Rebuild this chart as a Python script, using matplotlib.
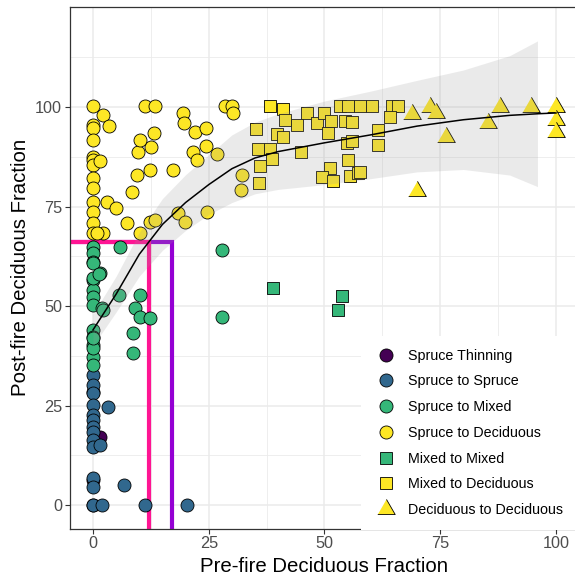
import matplotlib
matplotlib.use("Agg")
import matplotlib.pyplot as plt
from matplotlib.lines import Line2D
import numpy as np

plt.rcParams['font.family'] = ['Liberation Sans', 'DejaVu Sans']

# ---- data ----
spruce_thin_x = [0, 1.5, 0, 0]
spruce_thin_y = [28.5, 17.2, 6.3, 0]

spruce_spruce_x = [0, 0, 0, 0, 0, 0, 0, 0, 0, 0, 0, 0, 0, 1.9, 11.2, 20.2, 6.6, 3.3, 1.5]
spruce_spruce_y = [32.7, 30.2, 28.1, 25.1, 22.6, 21.4, 19.7, 18.4, 16.3, 14.6, 6.7, 4.6, 0,
                   0, 0, 0, 5.0, 24.7, 15.1]

spruce_mixed_x = [0, 0, 0, 1.5, 0, 0, 0, 0, 1.9, 2.2, 0, 0, 0, 5.8, 5.7, 10.2, 9.1, 10.2,
                  12.3, 8.7, 0, 0, 0, 0, 1.4, 8.7, 27.8, 27.8, 0, 0]
spruce_mixed_y = [64.9, 63.2, 61.1, 58.2, 56.5, 54.0, 52.3, 50.3, 49.4, 49.0, 44.0, 42.3, 40.2,
                  64.9, 52.8, 52.8, 49.4, 47.3, 46.9, 43.1, 60.7, 57.0, 37.3, 35.2, 58.0, 38.3,
                  64.1, 47.2, 39.4, 41.9]

spruce_decid_x = [0, 0, 0, 0, 0, 0, 0, 0, 0, 0, 0, 0, 0,
                  2.2, 3.5, 1.5, 3.0, 5.0, 2.2, 7.3, 8.4, 9.4, 12.3, 17.2, 9.8, 12.5, 10.2,
                  13.2, 11.2, 13.4, 19.5, 19.7, 22.0, 12.3, 13.4, 10.2, 18.4, 19.9, 21.7,
                  22.4, 24.4, 28.5, 30.0, 30.2, 24.4, 26.8, 32.1, 32.0, 24.6, 0.8]
spruce_decid_y = [100.3, 95.5, 94.6, 91.7, 87.5, 86.7, 85.4, 82.1, 79.6, 76.2, 73.7, 70.8, 68.3,
                  98.0, 95.2, 86.5, 76.2, 74.5, 68.3, 70.8, 78.7, 82.9, 84.2, 84.2, 88.8, 90.0,
                  91.7, 93.4, 100.3, 100.3, 98.4, 95.9, 93.8, 71.2, 71.6, 68.3, 73.3, 71.2,
                  88.8, 86.7, 94.6, 100.3, 100.3, 98.6, 90.2, 88.3, 82.9, 79.1, 73.7, 68.3]

mixed_mixed_x = [38.9, 53.7, 53.0]
mixed_mixed_y = [54.4, 52.6, 49.0]

mixed_decid_x = [38.2, 41.1, 41.5, 46.2, 44.0, 48.3, 49.9, 51.3, 53.3, 55.1, 57.7, 60.2, 54.4,
                 55.9, 50.8, 35.2, 39.8, 41.1, 35.7, 38.2, 38.6, 36.1, 35.9, 44.9, 54.8, 55.9,
                 55.1, 51.2, 49.4, 51.9, 55.5, 57.3, 61.6, 61.6, 64.5, 65.9, 64.1, 57.7]
mixed_decid_y = [100.3, 99.4, 96.7, 98.4, 95.5, 95.9, 98.4, 96.6, 100.3, 100.3, 100.3, 100.3,
                 96.6, 96.3, 93.5, 94.4, 93.2, 92.4, 89.4, 89.4, 86.9, 85.2, 80.8, 88.8, 90.9,
                 91.5, 86.7, 84.6, 82.3, 81.5, 82.7, 83.3, 94.2, 90.5, 100.3, 100.3, 97.4, 83.7]

decid_decid_x = [69, 72.7, 74.1, 76.2, 70, 87.8, 85.4, 94.6, 100, 100, 100]
decid_decid_y = [98.2, 100, 98.6, 92.4, 79, 100, 96.1, 100, 100, 96.8, 93.6]

# loess fit + confidence band
smooth_x = [0, 5, 10, 15, 20, 25, 30, 35, 40, 50, 60, 70, 80, 90, 96, 100]
smooth_y = [44, 53, 63, 70.5, 76, 80.5, 84.5, 87.2, 88.8, 91, 93, 95.2, 96.8, 97.9, 98.3, 98.5]
band_x = [0, 5, 10, 15, 20, 25, 30, 35, 40, 50, 60, 70, 80, 90, 96]
band_lo = [40, 48.5, 57.5, 64, 69, 73, 76, 78.2, 79.3, 80.5, 82, 83.7, 84.3, 82.9, 80]
band_hi = [48, 57.5, 68.5, 77, 83, 88, 93, 96.2, 98.3, 101.5, 104, 106.7, 109.3, 112.9, 116.6]

# threshold lines
pink_x = 12.1
purple_x = 17.1
thresh_y = 66

labels = ["Spruce Thinning", "Spruce to Spruce", "Spruce to Mixed", "Spruce to Deciduous",
          "Mixed to Mixed", "Mixed to Deciduous", "Deciduous to Deciduous"]
colors = ["#440154", "#31688E", "#35B779", "#FDE725", "#35B779", "#FDE725", "#FDE725"]

tri = [(-0.866, -0.5), (0.866, -0.5), (0, 1.0)]

fig = plt.figure(figsize=(5.75, 5.76), dpi=100)
ax = fig.add_axes([69.85 / 575, 1 - 528.5 / 576, 509.3 / 575, 521.8 / 576])

xmin, xmax = -5, 105
ymin, ymax = -5.9, 125.2

# grid like theme_bw
for v in [0, 25, 50, 75, 100]:
    ax.axvline(v, color="#EBEBEB", lw=1.1, zorder=0)
    ax.axhline(v, color="#EBEBEB", lw=1.1, zorder=0)
for v in [12.5, 37.5, 62.5, 87.5]:
    ax.axvline(v, color="#EBEBEB", lw=0.6, zorder=0)
for v in [12.5, 37.5, 62.5, 87.5, 112.5]:
    ax.axhline(v, color="#EBEBEB", lw=0.6, zorder=0)

# purple first, pink on top
ax.plot([xmin, purple_x, purple_x], [thresh_y, thresh_y, ymin], color="#9400D3", lw=3,
        solid_joinstyle="miter", zorder=1)
ax.plot([xmin, pink_x, pink_x], [thresh_y, thresh_y, ymin], color="#FF1493", lw=3,
        solid_joinstyle="miter", zorder=1.1)

groups = [
    (spruce_thin_x, spruce_thin_y, "o", 88),
    (spruce_spruce_x, spruce_spruce_y, "o", 88),
    (spruce_mixed_x, spruce_mixed_y, "o", 88),
    (spruce_decid_x, spruce_decid_y, "o", 88),
    (mixed_mixed_x, mixed_mixed_y, "s", 80),
    (mixed_decid_x, mixed_decid_y, "s", 80),
    (decid_decid_x, decid_decid_y, tri, 215),
]
for (gx, gy, m, s), c in zip(groups, colors):
    ax.scatter(gx, gy, marker=m, s=s, facecolor=c, edgecolor="black", linewidths=0.6, zorder=3)

ax.fill_between(band_x, band_lo, band_hi, color="#999999", alpha=0.2, lw=0, zorder=4)
ax.plot(smooth_x, smooth_y, color="black", lw=1.1, zorder=4.5)

ax.set_xlim(xmin, xmax)
ax.set_ylim(ymin, ymax)
ax.set_xticks([0, 25, 50, 75, 100])
ax.set_yticks([0, 25, 50, 75, 100])
ax.tick_params(length=3.5, width=0.8, color="#333333", labelsize=11.7, labelcolor="#4D4D4D", pad=2)
for sp in ax.spines.values():
    sp.set_color("#333333")
    sp.set_linewidth(0.9)

ax.set_xlabel("Pre-fire Deciduous Fraction", fontsize=14.7, labelpad=4)
ax.set_ylabel("Post-fire Deciduous Fraction", fontsize=14.7, labelpad=4)

# legend
handles = []
for lab, c, m, ms in zip(labels, colors, ["o", "o", "o", "o", "s", "s", tri],
                         [9.4, 9.4, 9.4, 9.4, 9.0, 9.0, 14.5]):
    handles.append(Line2D([], [], linestyle="none", marker=m, markersize=ms, markerfacecolor=c,
                          markeredgecolor="black", markeredgewidth=0.6, label=lab))
leg = ax.legend(handles=handles, loc="lower left", bbox_to_anchor=(361 / 575, 1 - 529.5 / 576),
                bbox_transform=fig.transFigure, borderaxespad=0, frameon=True, fancybox=False,
                framealpha=1, facecolor="white", edgecolor="none", fontsize=10.3,
                handlelength=1.75, handletextpad=0.68, labelspacing=0.82, borderpad=0.87)
leg.set_zorder(6)

fig.savefig("out.png", dpi=100)
